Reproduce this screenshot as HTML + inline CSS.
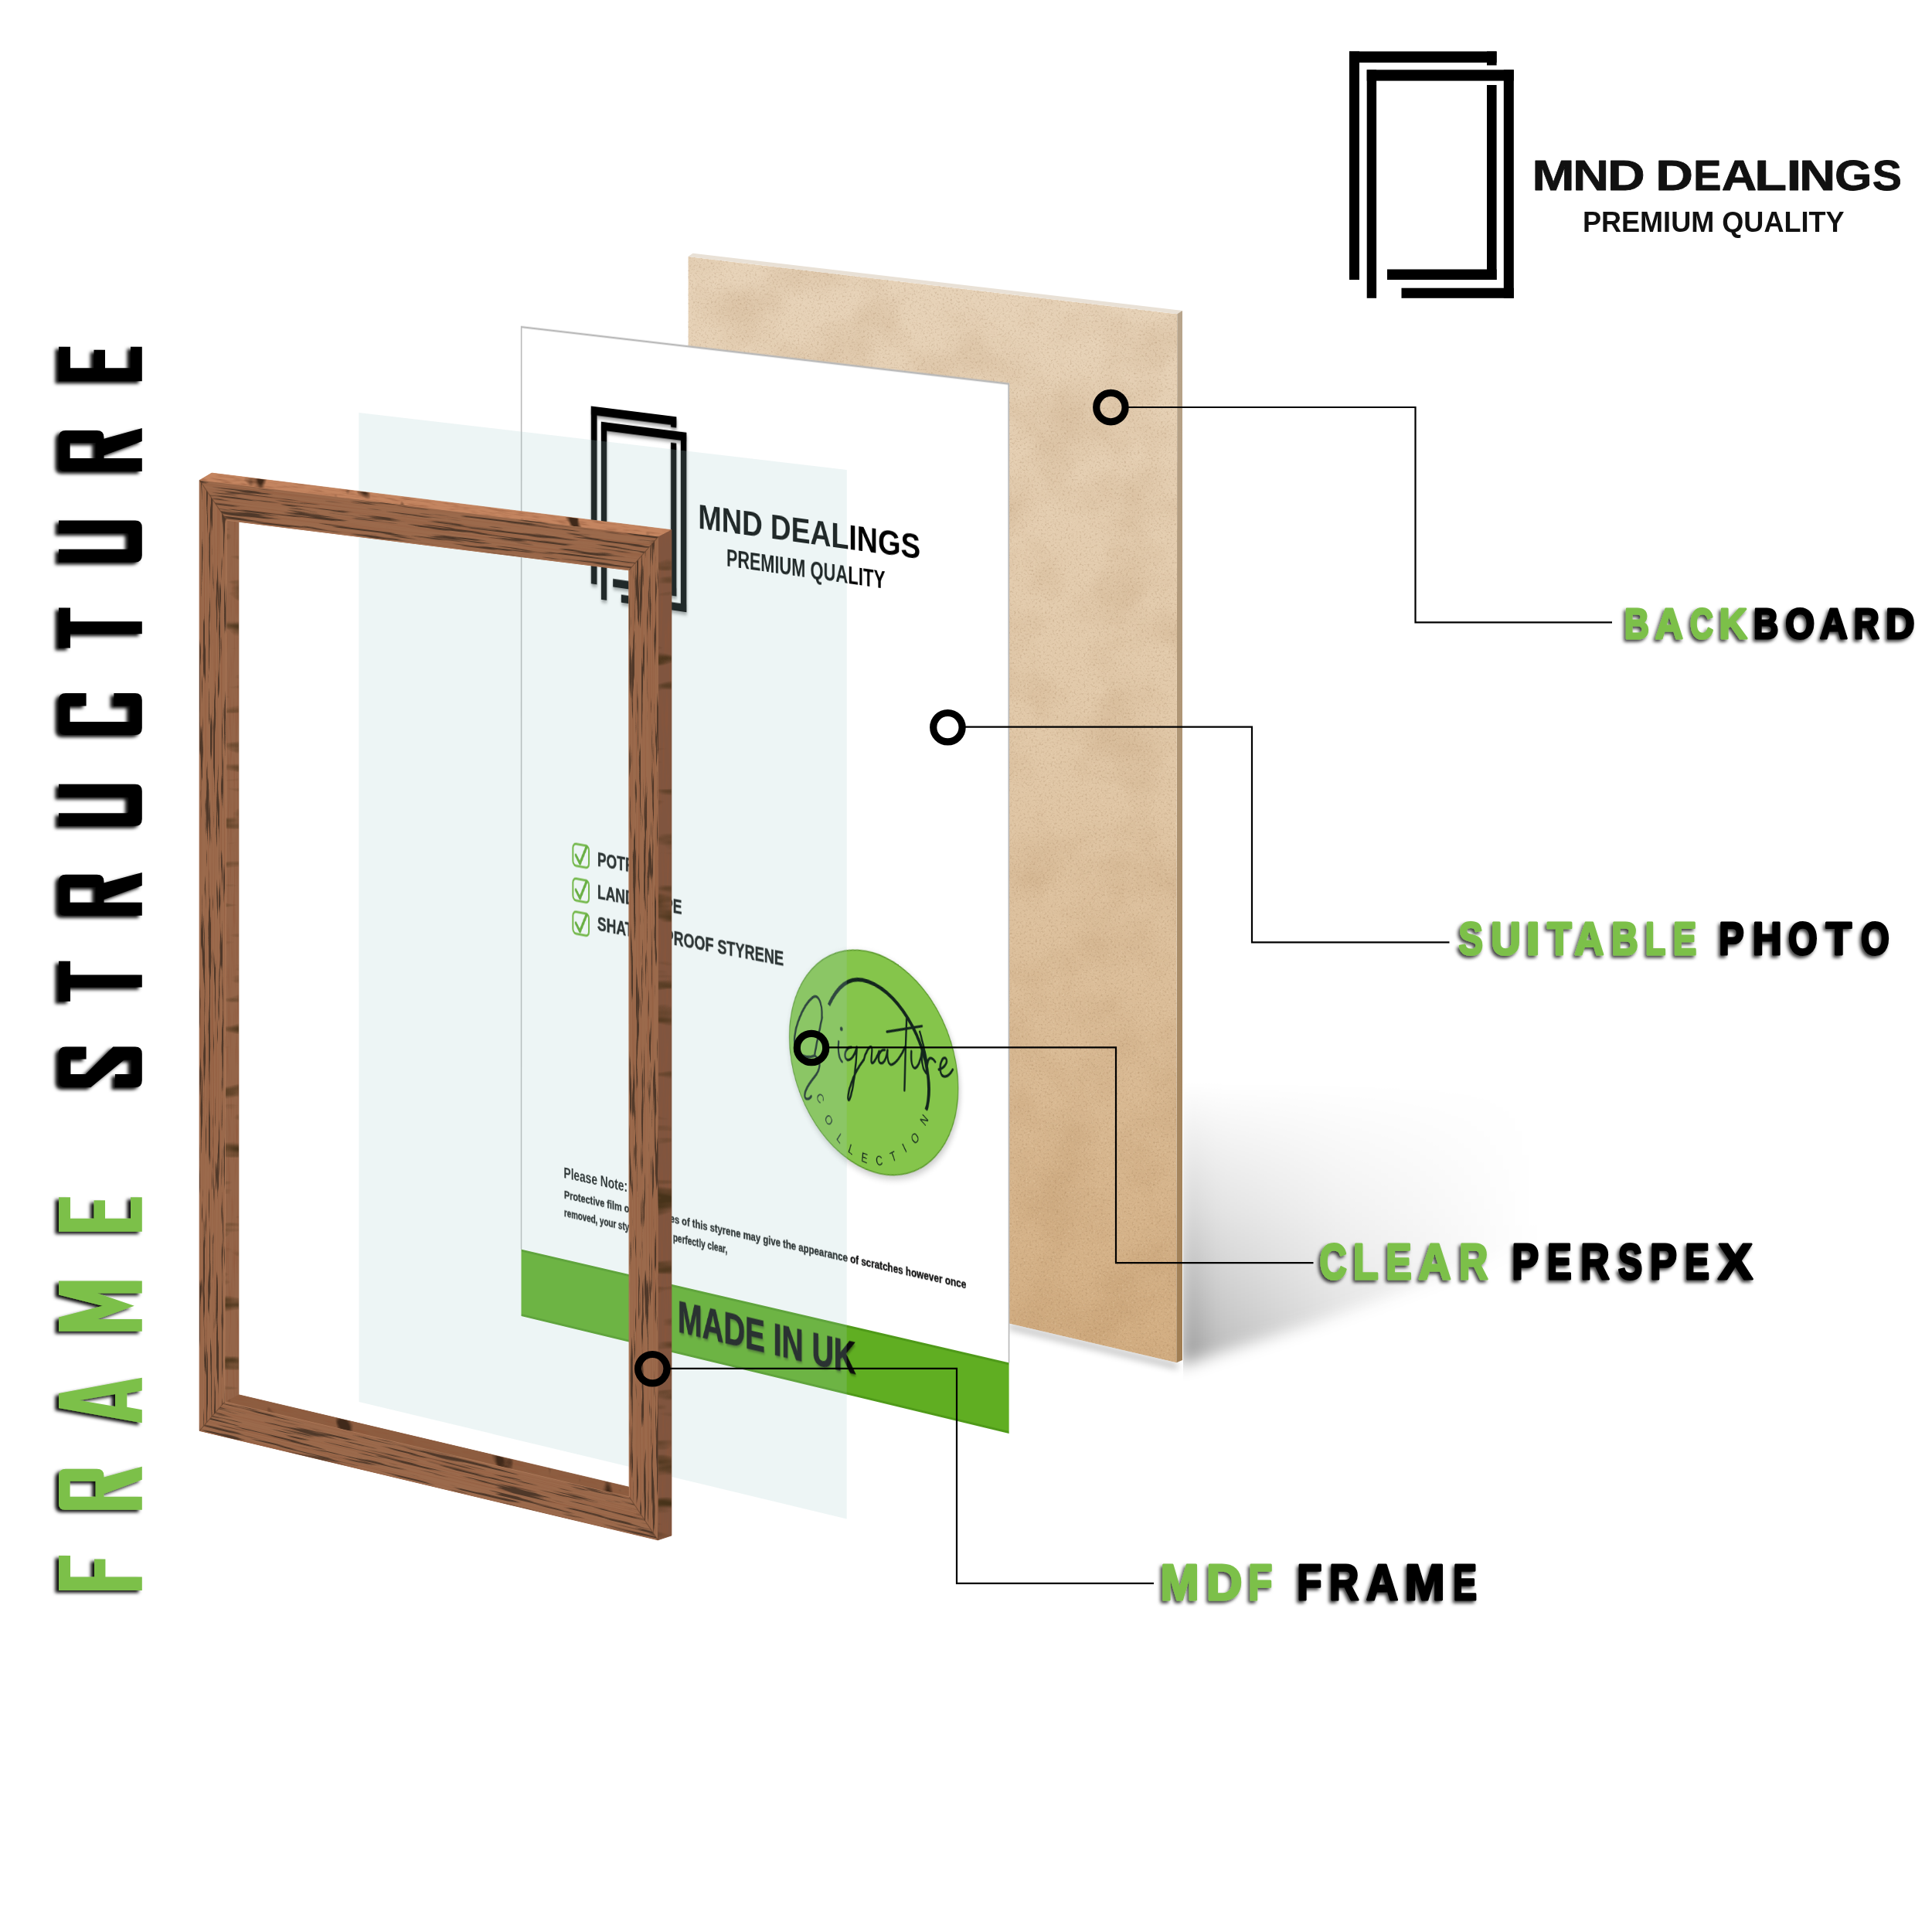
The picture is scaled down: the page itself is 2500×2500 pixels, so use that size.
<!DOCTYPE html>
<html><head><meta charset="utf-8"><title>Frame Structure</title>
<style>
html,body{margin:0;padding:0;background:#fff;}
body{width:2500px;height:2500px;position:relative;overflow:hidden;font-family:"Liberation Sans", sans-serif;}
svg{position:absolute;left:0;top:0;overflow:visible}
#paper{position:absolute;left:0;top:0;width:912px;height:1332px;transform-origin:0 0;transform:matrix3d(0.61699824,0.049979648,0,-6.4018783e-05,-0.00061865881,0.96844175,0,-6.925777e-07,0,0,1,0,674.7,423.1,0,1) translate(-6px,-6px);}
text{font-family:"Liberation Sans", sans-serif;}
</style></head><body>

<svg id="back" width="2500" height="2500" viewBox="0 0 2500 2500">
<defs>
<linearGradient id="gbb" x1="0" y1="0" x2="0" y2="1">
<stop offset="0" stop-color="#e7d3b9"/><stop offset="0.45" stop-color="#e1c8a8"/><stop offset="1" stop-color="#d2ad81"/></linearGradient>
<linearGradient id="gbr" x1="0" y1="0" x2="0" y2="1">
<stop offset="0" stop-color="#b8a58c"/><stop offset="1" stop-color="#a07d52"/></linearGradient>
<filter id="mdf" x="0" y="0" width="100%" height="100%" color-interpolation-filters="sRGB">
<feTurbulence type="fractalNoise" baseFrequency="0.012" numOctaves="3" seed="2" result="n1"/>
<feColorMatrix in="n1" type="matrix" values="0 0 0 0 0.6  0 0 0 0 0.43  0 0 0 0 0.25  0.32 0 0 0 -0.13" result="m1"/>
<feTurbulence type="fractalNoise" baseFrequency="0.4" numOctaves="2" seed="7" result="n2"/>
<feColorMatrix in="n2" type="matrix" values="0 0 0 0 0.5  0 0 0 0 0.36  0 0 0 0 0.22  0.7 0 0 0 -0.37" result="m2"/>
<feColorMatrix in="n2" type="matrix" values="0 0 0 0 1  0 0 0 0 0.95  0 0 0 0 0.85  0 -0.6 0 0 0.25" result="m3"/>
<feMerge result="m"><feMergeNode in="SourceGraphic"/><feMergeNode in="m1"/><feMergeNode in="m2"/><feMergeNode in="m3"/></feMerge>
<feComposite in="m" in2="SourceGraphic" operator="in"/></filter>
<filter id="blur30" x="-50%" y="-50%" width="200%" height="200%"><feGaussianBlur stdDeviation="10"/></filter>
<filter id="blur6" x="-50%" y="-50%" width="200%" height="200%"><feGaussianBlur stdDeviation="5"/></filter>
<linearGradient id="gsh" gradientUnits="userSpaceOnUse" x1="1530" y1="0" x2="1990" y2="0">
<stop offset="0" stop-color="#000" stop-opacity="0.38"/><stop offset="0.1" stop-color="#000" stop-opacity="0.25"/><stop offset="0.45" stop-color="#000" stop-opacity="0.12"/><stop offset="1" stop-color="#000" stop-opacity="0"/></linearGradient>
<linearGradient id="gshv" gradientUnits="userSpaceOnUse" x1="0" y1="1400" x2="0" y2="1740">
<stop offset="0" stop-color="#fff" stop-opacity="0"/><stop offset="0.5" stop-color="#fff" stop-opacity="0.45"/><stop offset="1" stop-color="#fff" stop-opacity="1"/></linearGradient>
<mask id="mshv" maskUnits="userSpaceOnUse" x="1400" y="1200" width="900" height="800"><rect x="1531" y="1200" width="800" height="800" fill="url(#gshv)"/></mask>
</defs>
<g mask="url(#mshv)"><polygon points="1526,1380 1526,1768 1700,1712 2010,1600 2010,1380" fill="url(#gsh)" filter="url(#blur30)"/></g>
<polygon points="1305,1712 1524,1764 1524,1772 1305,1720" fill="#000" opacity="0.25" filter="url(#blur6)"/>
<polygon points="890.4,332.0 896.6,327.8 1530.0,402.0 1523.3,406.2" fill="#e9e1d6"/>
<polygon points="1523.3,406.2 1530.0,402.0 1530.0,1760.0 1522.3,1763.3" fill="url(#gbr)"/>
<polygon points="890.4,332.0 1523.3,406.2 1522.3,1763.3 890.4,1615.4" fill="url(#gbb)" filter="url(#mdf)"/>
</svg>
<div id="paper"><svg width="912" height="1332" viewBox="-6 -6 912 1332">
<defs><filter id="psh" x="-10%%" y="-10%%" width="120%%" height="120%%"><feDropShadow dx="0.5" dy="3.5" stdDeviation="2.2" flood-color="#000" flood-opacity="0.38"/></filter></defs>
<rect x="0" y="0" width="900" height="1320" fill="#fff"/>
<path d="M0,1231 V0 H900 V1231" fill="none" stroke="#b9b9b9" stroke-width="2.4"/>
<rect x="0" y="1231" width="900" height="89" fill="#60ae22"/>
<rect x="0" y="1231" width="900" height="3" fill="#4f9a19"/>
<rect x="0" y="1317" width="900" height="3" fill="#4f9a19"/>
<g filter="url(#psh)"><g fill="#000"><rect x="135.50" y="94.00" width="162.65" height="11.53"/><rect x="135.50" y="94.00" width="11.09" height="235.07"/><rect x="287.40" y="94.00" width="10.75" height="14.32"/><rect x="287.40" y="128.60" width="10.75" height="200.46"/><rect x="177.32" y="318.33" width="120.84" height="10.74"/><rect x="154.87" y="112.93" width="162.23" height="11.38"/><rect x="154.87" y="112.93" width="10.58" height="235.07"/><rect x="306.01" y="112.93" width="11.09" height="235.07"/><rect x="193.10" y="337.58" width="124.00" height="10.42"/></g></g>
<text x="339" y="236.5" font-size="44.3" font-weight="700" textLength="405.7" lengthAdjust="spacingAndGlyphs" fill="#000">MND DEALINGS</text>
<text x="391.8" y="280" font-size="32" font-weight="700" textLength="290" lengthAdjust="spacingAndGlyphs" fill="#000">PREMIUM QUALITY</text>
<rect x="100.5" y="677.0" width="31" height="29" rx="6" ry="6" fill="#fff" stroke="#6ab42d" stroke-width="3"/><path d="M106,692.0 l8,10 l13,-24" fill="none" stroke="#5aa822" stroke-width="4.2" stroke-linecap="round" stroke-linejoin="round"/>
<text x="147.6" y="701.0" font-size="25.8" font-weight="700" textLength="113.5" lengthAdjust="spacingAndGlyphs" fill="#111" stroke="#111" stroke-width="0.5">POTRAIT</text>
<rect x="100.5" y="723.0" width="31" height="29" rx="6" ry="6" fill="#fff" stroke="#6ab42d" stroke-width="3"/><path d="M106,738.0 l8,10 l13,-24" fill="none" stroke="#5aa822" stroke-width="4.2" stroke-linecap="round" stroke-linejoin="round"/>
<text x="147.6" y="744.2" font-size="25.8" font-weight="700" textLength="161.0" lengthAdjust="spacingAndGlyphs" fill="#111" stroke="#111" stroke-width="0.5">LANDSCAPE</text>
<rect x="100.5" y="767.0" width="31" height="29" rx="6" ry="6" fill="#fff" stroke="#6ab42d" stroke-width="3"/><path d="M106,782.0 l8,10 l13,-24" fill="none" stroke="#5aa822" stroke-width="4.2" stroke-linecap="round" stroke-linejoin="round"/>
<text x="147.6" y="786.5" font-size="25.8" font-weight="700" textLength="350.0" lengthAdjust="spacingAndGlyphs" fill="#111" stroke="#111" stroke-width="0.5">SHATTER PROOF STYRENE</text>
<g transform="translate(661.5,891.5) rotate(23.5)"><ellipse cx="0" cy="0" rx="155" ry="138.5" fill="#000" opacity="0.22" filter="url(#blur6)"/></g>
<g transform="translate(659.6,887.6) rotate(23.5)"><ellipse cx="0" cy="0" rx="154" ry="137.6" fill="#85c54b" stroke="#5c9a2c" stroke-width="1.6"/></g>
<path d="M580,825.5 C 595,800 615,785 640.8,784.9 C 700,785 759,845 759.6,907.5 C 759.6,917 758,927 754.6,934.8" fill="none" stroke="#13261d" stroke-width="5" stroke-linecap="butt"/>
<text transform="translate(564.7,947.3) rotate(59.2)" x="0" y="6" text-anchor="middle" font-size="17" fill="#13261d">C</text>
<text transform="translate(580.0,973.0) rotate(52.3)" x="0" y="6" text-anchor="middle" font-size="17" fill="#13261d">O</text>
<text transform="translate(600.3,993.4) rotate(38.1)" x="0" y="6" text-anchor="middle" font-size="17" fill="#13261d">L</text>
<text transform="translate(620.5,1004.7) rotate(22.6)" x="0" y="6" text-anchor="middle" font-size="17" fill="#13261d">L</text>
<text transform="translate(644.5,1011.8) rotate(7.6)" x="0" y="6" text-anchor="middle" font-size="17" fill="#13261d">E</text>
<text transform="translate(670.9,1011.4) rotate(-10.5)" x="0" y="6" text-anchor="middle" font-size="17" fill="#13261d">C</text>
<text transform="translate(696.0,1002.3) rotate(-26.8)" x="0" y="6" text-anchor="middle" font-size="17" fill="#13261d">T</text>
<text transform="translate(716.0,988.6) rotate(-36.8)" x="0" y="6" text-anchor="middle" font-size="17" fill="#13261d">I</text>
<text transform="translate(734.7,973.4) rotate(-49.5)" x="0" y="6" text-anchor="middle" font-size="17" fill="#13261d">O</text>
<text transform="translate(750.9,947.8) rotate(-57.7)" x="0" y="6" text-anchor="middle" font-size="17" fill="#13261d">N</text>
<g fill="none" stroke="#13261d" stroke-width="3.2" stroke-linecap="round" stroke-linejoin="round">
<path d="M 567.3,843.5 C 568.5,821.7 559.6,813.9 550.7,819.6 C 532.8,832.0 513.6,867.2 518.2,886.4 C 521.3,896.8 539.2,901.5 554.5,893.9"/>
<path d="M 567.8,842.5 C 563.4,860.2 557.1,879.1 554.5,892.1"/>
<path d="M 554.5,893.9 C 567.2,899.3 564.7,910.4 554.5,920.9 C 544.3,931.4 535.3,941.7 536.1,948.8 C 537.1,954.1 544.8,952.0 548.1,947.1"/>
<path d="M 597.8,869.8 C 596.5,880.7 597.8,891.3 604.1,894.9"/>
<path d="M 620.6,873.8 C 610.4,875.2 605.4,888.5 613.0,891.0 C 620.5,891.7 628.1,881.7 630.7,872.3 C 629.4,899.4 624.3,927.0 618.0,940.5 C 614.2,946.4 612.4,937.7 620.5,920.4 C 625.6,908.9 635.7,894.9 643.3,886.7"/>
<path d="M 643.3,886.7 C 645.8,877.4 653.4,867.3 657.1,868.6 C 659.7,870.0 655.9,883.1 657.1,888.3 C 659.6,891.5 665.9,881.7 671.0,872.0"/>
<path d="M 681.0,868.8 C 671.0,868.4 665.9,885.2 673.5,886.8 C 681.0,886.7 684.8,875.4 686.0,868.1 C 684.8,879.0 687.3,887.6 693.5,885.8 C 701.0,882.9 711.0,871.7 717.3,860.1"/>
<path d="M 719.8,824.1 C 718.5,856.4 717.3,886.8 716.0,915.5"/>
<path d="M 684.8,845.1 L 747.2,829.2"/>
<path d="M 728.5,863.9 C 727.3,876.5 729.8,885.1 734.7,884.4 C 741.0,882.6 745.9,870.3 747.2,861.2 C 746.4,873.8 748.4,884.2 754.6,887.7"/>
<path d="M 754.6,887.7 C 755.9,877.8 757.1,870.5 760.9,868.2 C 764.6,866.8 768.3,868.9 770.8,871.2"/>
<path d="M 777.0,880.1 C 788.1,876.7 794.3,867.0 789.3,864.1 C 783.2,862.4 777.0,874.8 780.7,884.0 C 784.4,891.5 795.5,886.3 801.7,876.6"/>
<path d="M 743.5,836.9 C 749.7,852.0 753.4,863.9 755.9,872.4"/>
</g>
<circle cx="602.8" cy="852.9" r="2.6" fill="#13261d"/>
<text x="82.8" y="1123.5" font-size="20.5" font-weight="700" textLength="122.7" lengthAdjust="spacingAndGlyphs" fill="#111">Please Note:</text>
<text x="83.5" y="1150.5" font-size="15" font-weight="700" textLength="742" lengthAdjust="spacingAndGlyphs" fill="#111" stroke="#111" stroke-width="0.35">Protective film on both sides of this styrene may give the appearance of scratches however once</text>
<text x="83.5" y="1174.5" font-size="15" font-weight="700" textLength="310" lengthAdjust="spacingAndGlyphs" fill="#111" stroke="#111" stroke-width="0.35">removed, your styrene will be perfectly clear,</text>
<text x="302" y="1294" font-size="56.5" font-weight="700" textLength="328" lengthAdjust="spacingAndGlyphs" fill="#000" opacity="0.35" filter="url(#blur2)">MADE IN UK</text>
<text x="300.6" y="1291" font-size="56.5" font-weight="700" textLength="328" lengthAdjust="spacingAndGlyphs" fill="#0c0c0c" stroke="#0c0c0c" stroke-width="1">MADE IN UK</text>
</svg></div>
<svg id="front" width="2500" height="2500" viewBox="0 0 2500 2500">
<defs>
<filter id="blur2" x="-20%" y="-20%" width="140%" height="140%"><feGaussianBlur stdDeviation="1.5"/></filter>
<filter id="vsh" x="-20%" y="-5%" width="140%" height="110%"><feDropShadow dx="-4.5" dy="3" stdDeviation="2.2" flood-color="#000" flood-opacity="0.95"/></filter>
<filter id="lsh" x="-5%" y="-30%" width="110%" height="170%"><feDropShadow dx="-2.5" dy="3" stdDeviation="2.2" flood-color="#000" flood-opacity="0.75"/></filter>
<linearGradient id="gwf" x1="0" y1="0" x2="1" y2="0"><stop offset="0" stop-color="#a36a4a"/><stop offset="1" stop-color="#a97050"/></linearGradient>
</defs>
<polygon points="464.3,533.9 1095.8,607.9 1095.7,1965.4 464.5,1814.0" fill="rgb(165,205,205)" fill-opacity="0.2"/>
<defs><filter id="wh" x="0" y="0" width="100%" height="100%" color-interpolation-filters="sRGB"><feTurbulence type="fractalNoise" baseFrequency="0.011 0.3" numOctaves="3" seed="5" result="n"/><feColorMatrix in="n" type="matrix" values="0 0 0 0 0.31  0 0 0 0 0.22  0 0 0 0 0.16  10.00 0 0 0 -5.60" result="d"/><feTurbulence type="fractalNoise" baseFrequency="0.004 0.9" numOctaves="2" seed="12" result="n2"/><feColorMatrix in="n2" type="matrix" values="0 0 0 0 0.55 0 0 0 0 0.33 0 0 0 0 0.22  0 1.80 0 0 -0.85" result="l"/><feMerge result="m"><feMergeNode in="SourceGraphic"/><feMergeNode in="l"/><feMergeNode in="d"/></feMerge><feComposite in="m" in2="SourceGraphic" operator="in"/></filter><filter id="wh2" x="0" y="0" width="100%" height="100%" color-interpolation-filters="sRGB"><feTurbulence type="fractalNoise" baseFrequency="0.011 0.3" numOctaves="3" seed="23" result="n"/><feColorMatrix in="n" type="matrix" values="0 0 0 0 0.31  0 0 0 0 0.22  0 0 0 0 0.16  10.00 0 0 0 -5.60" result="d"/><feTurbulence type="fractalNoise" baseFrequency="0.004 0.9" numOctaves="2" seed="30" result="n2"/><feColorMatrix in="n2" type="matrix" values="0 0 0 0 0.55 0 0 0 0 0.33 0 0 0 0 0.22  0 1.80 0 0 -0.85" result="l"/><feMerge result="m"><feMergeNode in="SourceGraphic"/><feMergeNode in="l"/><feMergeNode in="d"/></feMerge><feComposite in="m" in2="SourceGraphic" operator="in"/></filter><filter id="wv" x="0" y="0" width="100%" height="100%" color-interpolation-filters="sRGB"><feTurbulence type="fractalNoise" baseFrequency="0.3 0.011" numOctaves="3" seed="9" result="n"/><feColorMatrix in="n" type="matrix" values="0 0 0 0 0.31  0 0 0 0 0.22  0 0 0 0 0.16  10.00 0 0 0 -5.65" result="d"/><feTurbulence type="fractalNoise" baseFrequency="0.9 0.004" numOctaves="2" seed="16" result="n2"/><feColorMatrix in="n2" type="matrix" values="0 0 0 0 0.55 0 0 0 0 0.33 0 0 0 0 0.22  0 1.80 0 0 -0.85" result="l"/><feMerge result="m"><feMergeNode in="SourceGraphic"/><feMergeNode in="l"/><feMergeNode in="d"/></feMerge><feComposite in="m" in2="SourceGraphic" operator="in"/></filter><filter id="wv2" x="0" y="0" width="100%" height="100%" color-interpolation-filters="sRGB"><feTurbulence type="fractalNoise" baseFrequency="0.3 0.011" numOctaves="3" seed="31" result="n"/><feColorMatrix in="n" type="matrix" values="0 0 0 0 0.31  0 0 0 0 0.22  0 0 0 0 0.16  10.00 0 0 0 -5.65" result="d"/><feTurbulence type="fractalNoise" baseFrequency="0.9 0.004" numOctaves="2" seed="38" result="n2"/><feColorMatrix in="n2" type="matrix" values="0 0 0 0 0.55 0 0 0 0 0.33 0 0 0 0 0.22  0 1.80 0 0 -0.85" result="l"/><feMerge result="m"><feMergeNode in="SourceGraphic"/><feMergeNode in="l"/><feMergeNode in="d"/></feMerge><feComposite in="m" in2="SourceGraphic" operator="in"/></filter><filter id="wtop" x="0" y="0" width="100%" height="100%" color-interpolation-filters="sRGB"><feTurbulence type="fractalNoise" baseFrequency="0.03 0.02" numOctaves="3" seed="3" result="n"/><feColorMatrix in="n" type="matrix" values="0 0 0 0 0.25  0 0 0 0 0.16  0 0 0 0 0.10  7.00 0 0 0 -4.30" result="d"/><feTurbulence type="fractalNoise" baseFrequency="0.05 0.4" numOctaves="2" seed="10" result="n2"/><feColorMatrix in="n2" type="matrix" values="0 0 0 0 0.55 0 0 0 0 0.33 0 0 0 0 0.22  0 1.50 0 0 -0.70" result="l"/><feMerge result="m"><feMergeNode in="SourceGraphic"/><feMergeNode in="l"/><feMergeNode in="d"/></feMerge><feComposite in="m" in2="SourceGraphic" operator="in"/></filter><filter id="wside" x="0" y="0" width="100%" height="100%" color-interpolation-filters="sRGB"><feTurbulence type="fractalNoise" baseFrequency="0.01 0.04" numOctaves="3" seed="4" result="n"/><feColorMatrix in="n" type="matrix" values="0 0 0 0 0.28  0 0 0 0 0.20  0 0 0 0 0.10  4.00 0 0 0 -2.20" result="d"/><feTurbulence type="fractalNoise" baseFrequency="0.4 0.02" numOctaves="2" seed="11" result="n2"/><feColorMatrix in="n2" type="matrix" values="0 0 0 0 0.55 0 0 0 0 0.33 0 0 0 0 0.22  0 1.50 0 0 -0.70" result="l"/><feMerge result="m"><feMergeNode in="SourceGraphic"/><feMergeNode in="l"/><feMergeNode in="d"/></feMerge><feComposite in="m" in2="SourceGraphic" operator="in"/></filter></defs>
<path d="M258.2,621.4 L852.0,694.4 L851.4,1992.8 L258.2,1851.4 Z M293.2,673.2 L813.9,737.8 L814.3,1937.0 L290.8,1813.9 Z" fill="#9a6548" fill-rule="evenodd" stroke="#9a6548" stroke-width="1"/>
<polygon points="258.2,621.4 274.0,612.1 868.9,685.7 852.0,694.4" fill="#c48560" stroke="#c48560" stroke-width="0.8"/>
<polygon points="852.0,694.4 868.9,685.7 868.9,1987.0 851.4,1992.8" fill="#85573f" stroke="#85573f" stroke-width="0.8"/>
<polygon points="293.2,673.2 308.9,675.6 308.9,1804.8 290.8,1813.9" fill="#946549" stroke="#946549" stroke-width="0.8"/>
<polygon points="290.8,1813.9 308.9,1804.8 813.9,1924.2 814.3,1937.0" fill="#8d5d40" stroke="#8d5d40" stroke-width="0.8"/>
<clipPath id="cp1"><polygon points="258.2,621.4 274.0,612.1 868.9,685.7 852.0,694.4"/></clipPath><g clip-path="url(#cp1)"><g transform="matrix(1,0.12294,0,1,0,0)"><rect x="252.2" y="572.4" width="622.7" height="23.2" fill="#c48560" filter="url(#wtop)"/></g></g>
<clipPath id="cp2"><polygon points="852.0,694.4 868.9,685.7 868.9,1987.0 851.4,1992.8"/></clipPath><g clip-path="url(#cp2)"><rect x="845.4" y="679.7" width="29.5" height="1319.1" fill="#80553f" filter="url(#wside)"/></g>
<clipPath id="cp3"><polygon points="293.2,673.2 308.9,675.6 308.9,1804.8 290.8,1813.9"/></clipPath><g clip-path="url(#cp3)"><rect x="284.8" y="667.2" width="30.1" height="1152.7" fill="#946549" filter="url(#wside)"/></g>
<clipPath id="cp4"><polygon points="290.8,1813.9 308.9,1804.8 813.9,1924.2 814.3,1937.0"/></clipPath><g clip-path="url(#cp4)"><g transform="matrix(1,0.23837,0,1,0,0)"><rect x="284.8" y="1724.2" width="535.5" height="26.4" fill="#8d5d40" filter="url(#wtop)"/></g></g>
<clipPath id="cp5"><polygon points="258.2,621.4 852.0,694.4 813.9,737.8 293.2,673.2"/></clipPath><g clip-path="url(#cp5)"><g transform="matrix(1,0.12294,0,1,0,0)"><rect x="252.2" y="583.7" width="605.8" height="60.1" fill="#9b6a4c" filter="url(#wh)"/></g></g>
<clipPath id="cp6"><polygon points="258.2,1851.4 290.8,1813.9 814.3,1937.0 851.4,1992.8"/></clipPath><g clip-path="url(#cp6)"><g transform="matrix(1,0.23837,0,1,0,0)"><rect x="252.2" y="1736.9" width="605.2" height="59.0" fill="#9b6a4c" filter="url(#wh2)"/></g></g>
<clipPath id="cp7"><polygon points="258.2,621.4 293.2,673.2 290.8,1813.9 258.2,1851.4"/></clipPath><g clip-path="url(#cp7)"><rect x="252.2" y="615.4" width="47.0" height="1242.0" fill="#9b6a4c" filter="url(#wv)"/></g>
<clipPath id="cp8"><polygon points="852.0,694.4 851.4,1992.8 814.3,1937.0 813.9,737.8"/></clipPath><g clip-path="url(#cp8)"><rect x="807.9" y="688.4" width="50.1" height="1310.4" fill="#9b6a4c" filter="url(#wv2)"/></g>
<line x1="258.2" y1="621.4" x2="293.2" y2="673.2" stroke="#5e3f2b" stroke-width="1.2" opacity="0.55"/>
<line x1="852.0" y1="694.4" x2="813.9" y2="737.8" stroke="#5e3f2b" stroke-width="1.2" opacity="0.55"/>
<line x1="851.4" y1="1992.8" x2="814.3" y2="1937.0" stroke="#5e3f2b" stroke-width="1.2" opacity="0.55"/>
<line x1="258.2" y1="1851.4" x2="290.8" y2="1813.9" stroke="#5e3f2b" stroke-width="1.2" opacity="0.55"/>
<polygon points="293.2,673.2 813.9,737.8 814.3,1937.0 290.8,1813.9" fill="none" stroke="#b98362" stroke-width="1" opacity="0.6"/>
<polyline points="1460.0,527.0 1831.5,527.0 1831.5,805.4 2086.0,805.4" fill="none" stroke="#000" stroke-width="2.2"/><circle cx="1437.4" cy="527.1" r="18.7" fill="none" stroke="#000" stroke-width="9.2"/>
<polyline points="1249.0,940.6 1620.0,940.6 1620.0,1219.4 1875.5,1219.4" fill="none" stroke="#000" stroke-width="2.2"/><circle cx="1226.4" cy="941.2" r="18.7" fill="none" stroke="#000" stroke-width="9.2"/>
<polyline points="1072.0,1355.4 1444.0,1355.4 1444.0,1634.2 1699.5,1634.2" fill="none" stroke="#000" stroke-width="2.2"/><circle cx="1050.0" cy="1356.0" r="18.7" fill="none" stroke="#000" stroke-width="9.2"/>
<polyline points="867.0,1770.8 1238.0,1770.8 1238.0,2048.8 1493.0,2048.8" fill="none" stroke="#000" stroke-width="2.2"/><circle cx="844.3" cy="1771.2" r="18.7" fill="none" stroke="#000" stroke-width="9.2"/>
<g fill="#000"><rect x="1746.00" y="66.50" width="190.60" height="14.50"/><rect x="1746.00" y="66.50" width="13.00" height="295.50"/><rect x="1924.00" y="66.50" width="12.60" height="18.00"/><rect x="1924.00" y="110.00" width="12.60" height="252.00"/><rect x="1795.00" y="348.50" width="141.60" height="13.50"/><rect x="1768.70" y="90.30" width="190.10" height="14.30"/><rect x="1768.70" y="90.30" width="12.40" height="295.50"/><rect x="1945.80" y="90.30" width="13.00" height="295.50"/><rect x="1813.50" y="372.70" width="145.30" height="13.10"/></g>
<text transform="matrix(1.1710,0,0,1,1982.41,246.10)" font-size="56.40" font-weight="700" fill="#111" stroke="#111" stroke-width="0.80" stroke-linejoin="round">M</text><text transform="matrix(1.1493,0,0,1,2035.28,246.10)" font-size="56.40" font-weight="700" fill="#111" stroke="#111" stroke-width="0.80" stroke-linejoin="round">N</text><text transform="matrix(1.1969,0,0,1,2079.92,246.10)" font-size="56.40" font-weight="700" fill="#111" stroke="#111" stroke-width="0.80" stroke-linejoin="round">D</text><text transform="matrix(1.1969,0,0,1,2142.22,246.10)" font-size="56.40" font-weight="700" fill="#111" stroke="#111" stroke-width="0.80" stroke-linejoin="round">D</text><text transform="matrix(0.9604,0,0,1,2191.13,246.10)" font-size="56.40" font-weight="700" fill="#111" stroke="#111" stroke-width="0.80" stroke-linejoin="round">E</text><text transform="matrix(1.1144,0,0,1,2227.87,246.10)" font-size="56.40" font-weight="700" fill="#111" stroke="#111" stroke-width="0.80" stroke-linejoin="round">A</text><text transform="matrix(1.2154,0,0,1,2270.36,246.10)" font-size="56.40" font-weight="700" fill="#111" stroke="#111" stroke-width="0.80" stroke-linejoin="round">L</text><text transform="matrix(1.2675,0,0,1,2311.48,246.10)" font-size="56.40" font-weight="700" fill="#111" stroke="#111" stroke-width="0.80" stroke-linejoin="round">I</text><text transform="matrix(1.1523,0,0,1,2328.27,246.10)" font-size="56.40" font-weight="700" fill="#111" stroke="#111" stroke-width="0.80" stroke-linejoin="round">N</text><text transform="matrix(1.1012,0,0,1,2373.96,246.10)" font-size="56.40" font-weight="700" fill="#111" stroke="#111" stroke-width="0.80" stroke-linejoin="round">G</text><text transform="matrix(1.0146,0,0,1,2422.69,246.10)" font-size="56.40" font-weight="700" fill="#111" stroke="#111" stroke-width="0.80" stroke-linejoin="round">S</text>
<text x="2047.9" y="299.8" font-size="37.3" font-weight="700" textLength="338.7" lengthAdjust="spacingAndGlyphs" fill="#111">PREMIUM QUALITY</text>
<g filter="url(#lsh)"><text transform="matrix(0.7955,0,0,1,2102.10,826.30)" font-size="55.67" font-weight="700" fill="#7cc04a" stroke="#7cc04a" stroke-width="3.00" stroke-linejoin="round">B</text><text transform="matrix(0.8884,0,0,1,2142.10,826.30)" font-size="55.67" font-weight="700" fill="#7cc04a" stroke="#7cc04a" stroke-width="3.00" stroke-linejoin="round">A</text><text transform="matrix(0.7450,0,0,1,2187.06,826.30)" font-size="55.67" font-weight="700" fill="#7cc04a" stroke="#7cc04a" stroke-width="3.00" stroke-linejoin="round">C</text><text transform="matrix(0.8945,0,0,1,2224.68,826.30)" font-size="55.67" font-weight="700" fill="#7cc04a" stroke="#7cc04a" stroke-width="3.00" stroke-linejoin="round">K</text><text transform="matrix(0.8063,0,0,1,2269.08,826.30)" font-size="55.67" font-weight="700" fill="#000" stroke="#000" stroke-width="3.00" stroke-linejoin="round">B</text><text transform="matrix(0.8755,0,0,1,2310.26,826.30)" font-size="55.67" font-weight="700" fill="#000" stroke="#000" stroke-width="3.00" stroke-linejoin="round">O</text><text transform="matrix(0.8909,0,0,1,2355.10,826.30)" font-size="55.67" font-weight="700" fill="#000" stroke="#000" stroke-width="3.00" stroke-linejoin="round">A</text><text transform="matrix(0.8244,0,0,1,2398.84,826.30)" font-size="55.67" font-weight="700" fill="#000" stroke="#000" stroke-width="3.00" stroke-linejoin="round">R</text><text transform="matrix(0.9354,0,0,1,2439.89,826.30)" font-size="55.67" font-weight="700" fill="#000" stroke="#000" stroke-width="3.00" stroke-linejoin="round">D</text></g>
<g filter="url(#lsh)"><text transform="matrix(0.8071,0,0,1,1887.60,1234.50)" font-size="58.43" font-weight="700" fill="#7cc04a" stroke="#7cc04a" stroke-width="3.00" stroke-linejoin="round">S</text><text transform="matrix(0.9144,0,0,1,1929.17,1234.50)" font-size="58.43" font-weight="700" fill="#7cc04a" stroke="#7cc04a" stroke-width="3.00" stroke-linejoin="round">U</text><text transform="matrix(1.1036,0,0,1,1974.80,1234.50)" font-size="58.43" font-weight="700" fill="#7cc04a" stroke="#7cc04a" stroke-width="3.00" stroke-linejoin="round">I</text><text transform="matrix(0.8787,0,0,1,2002.18,1234.50)" font-size="58.43" font-weight="700" fill="#7cc04a" stroke="#7cc04a" stroke-width="3.00" stroke-linejoin="round">T</text><text transform="matrix(0.8968,0,0,1,2037.54,1234.50)" font-size="58.43" font-weight="700" fill="#7cc04a" stroke="#7cc04a" stroke-width="3.00" stroke-linejoin="round">A</text><text transform="matrix(0.8178,0,0,1,2085.30,1234.50)" font-size="58.43" font-weight="700" fill="#7cc04a" stroke="#7cc04a" stroke-width="3.00" stroke-linejoin="round">B</text><text transform="matrix(0.7376,0,0,1,2129.10,1234.50)" font-size="58.43" font-weight="700" fill="#7cc04a" stroke="#7cc04a" stroke-width="3.00" stroke-linejoin="round">L</text><text transform="matrix(0.7783,0,0,1,2165.00,1234.50)" font-size="58.43" font-weight="700" fill="#7cc04a" stroke="#7cc04a" stroke-width="3.00" stroke-linejoin="round">E</text><text transform="matrix(0.8330,0,0,1,2224.26,1234.50)" font-size="58.43" font-weight="700" fill="#000" stroke="#000" stroke-width="3.00" stroke-linejoin="round">P</text><text transform="matrix(0.9028,0,0,1,2267.69,1234.50)" font-size="58.43" font-weight="700" fill="#000" stroke="#000" stroke-width="3.00" stroke-linejoin="round">H</text><text transform="matrix(0.8324,0,0,1,2314.00,1234.50)" font-size="58.43" font-weight="700" fill="#000" stroke="#000" stroke-width="3.00" stroke-linejoin="round">O</text><text transform="matrix(0.9323,0,0,1,2362.72,1234.50)" font-size="58.43" font-weight="700" fill="#000" stroke="#000" stroke-width="3.00" stroke-linejoin="round">T</text><text transform="matrix(0.8118,0,0,1,2408.12,1234.50)" font-size="58.43" font-weight="700" fill="#000" stroke="#000" stroke-width="3.00" stroke-linejoin="round">O</text></g>
<g filter="url(#lsh)"><text transform="matrix(0.7569,0,0,1,1707.42,1654.90)" font-size="64.68" font-weight="700" fill="#7cc04a" stroke="#7cc04a" stroke-width="3.00" stroke-linejoin="round">C</text><text transform="matrix(0.8345,0,0,1,1750.78,1654.90)" font-size="64.68" font-weight="700" fill="#7cc04a" stroke="#7cc04a" stroke-width="3.00" stroke-linejoin="round">L</text><text transform="matrix(0.7773,0,0,1,1793.30,1654.90)" font-size="64.68" font-weight="700" fill="#7cc04a" stroke="#7cc04a" stroke-width="3.00" stroke-linejoin="round">E</text><text transform="matrix(0.9004,0,0,1,1835.54,1654.90)" font-size="64.68" font-weight="700" fill="#7cc04a" stroke="#7cc04a" stroke-width="3.00" stroke-linejoin="round">A</text><text transform="matrix(0.8040,0,0,1,1887.90,1654.90)" font-size="64.68" font-weight="700" fill="#7cc04a" stroke="#7cc04a" stroke-width="3.00" stroke-linejoin="round">R</text><text transform="matrix(0.8116,0,0,1,1956.24,1654.90)" font-size="64.68" font-weight="700" fill="#000" stroke="#000" stroke-width="3.00" stroke-linejoin="round">P</text><text transform="matrix(0.7364,0,0,1,2002.02,1654.90)" font-size="64.68" font-weight="700" fill="#000" stroke="#000" stroke-width="3.00" stroke-linejoin="round">E</text><text transform="matrix(0.8040,0,0,1,2045.15,1654.90)" font-size="64.68" font-weight="700" fill="#000" stroke="#000" stroke-width="3.00" stroke-linejoin="round">R</text><text transform="matrix(0.7321,0,0,1,2093.67,1654.90)" font-size="64.68" font-weight="700" fill="#000" stroke="#000" stroke-width="3.00" stroke-linejoin="round">S</text><text transform="matrix(0.8116,0,0,1,2134.99,1654.90)" font-size="64.68" font-weight="700" fill="#000" stroke="#000" stroke-width="3.00" stroke-linejoin="round">P</text><text transform="matrix(0.7364,0,0,1,2180.14,1654.90)" font-size="64.68" font-weight="700" fill="#000" stroke="#000" stroke-width="3.00" stroke-linejoin="round">E</text><text transform="matrix(1.0368,0,0,1,2223.25,1654.90)" font-size="64.68" font-weight="700" fill="#000" stroke="#000" stroke-width="3.00" stroke-linejoin="round">X</text></g>
<g filter="url(#lsh)"><text transform="matrix(0.9323,0,0,1,1501.62,2069.90)" font-size="64.53" font-weight="700" fill="#7cc04a" stroke="#7cc04a" stroke-width="3.00" stroke-linejoin="round">M</text><text transform="matrix(0.9966,0,0,1,1560.96,2069.90)" font-size="64.53" font-weight="700" fill="#7cc04a" stroke="#7cc04a" stroke-width="3.00" stroke-linejoin="round">D</text><text transform="matrix(0.7925,0,0,1,1615.36,2069.90)" font-size="64.53" font-weight="700" fill="#7cc04a" stroke="#7cc04a" stroke-width="3.00" stroke-linejoin="round">F</text><text transform="matrix(0.8191,0,0,1,1678.14,2069.90)" font-size="64.53" font-weight="700" fill="#000" stroke="#000" stroke-width="3.00" stroke-linejoin="round">F</text><text transform="matrix(0.8259,0,0,1,1720.02,2069.90)" font-size="64.53" font-weight="700" fill="#000" stroke="#000" stroke-width="3.00" stroke-linejoin="round">R</text><text transform="matrix(0.8857,0,0,1,1767.99,2069.90)" font-size="64.53" font-weight="700" fill="#000" stroke="#000" stroke-width="3.00" stroke-linejoin="round">A</text><text transform="matrix(0.9670,0,0,1,1817.71,2069.90)" font-size="64.53" font-weight="700" fill="#000" stroke="#000" stroke-width="3.00" stroke-linejoin="round">M</text><text transform="matrix(0.7178,0,0,1,1880.33,2069.90)" font-size="64.53" font-weight="700" fill="#000" stroke="#000" stroke-width="3.00" stroke-linejoin="round">E</text></g>
<g filter="url(#vsh)">
<path transform="translate(76,2058.0) rotate(-90)" d="M0,0 H45 V15 H17.4 V46 H40.6 V60.4 H17.4 V107.8 H0 Z" fill="#7cc04a" fill-rule="evenodd"/>
<path transform="translate(76,1953.7) rotate(-90)" d="M8,0 H44 Q53,0 53,9 V49.5 Q53,58.5 44,58.5 H42.3 L55.9,107.8 H38.9 L20.7,58.5 H17 V107.8 H0 V8 Q0,0 8,0 Z M17,14.6 H36.9 V47.7 H17 Z" fill="#7cc04a" fill-rule="evenodd"/>
<path transform="translate(76,1841.2) rotate(-90)" d="M19.2,0 H38.2 L58.5,107.8 H41.6 L38.1,88.3 H20.4 L16.9,107.8 H0 Z M29.2,27 L37.2,73 H21.2 Z" fill="#7cc04a" fill-rule="evenodd"/>
<path transform="translate(76,1722.8) rotate(-90)" d="M0,0 H18.2 L33,56.8 L47.2,0 H65.4 V107.8 H49.2 V50.2 L33,97.8 L15.8,50.2 V107.8 H0 Z" fill="#7cc04a" fill-rule="evenodd"/>
<path transform="translate(76,1593.7) rotate(-90)" d="M0,0 H44.5 V15 H17 V45.5 H40.5 V60 H17 V93 H44.5 V107.8 H0 Z" fill="#7cc04a" fill-rule="evenodd"/>
<path transform="translate(76,1407.0) rotate(-90)" d="M9,0 H43.5 Q52.5,0 52.5,9 V35.6 H36.4 V15.4 H17 V34.8 L52.5,70.4 V99 Q52.5,107.8 43.5,107.8 H9 Q0,107.8 0,99 V72.9 H17 V94.1 H35.6 V84.5 L0,41.4 V9 Q0,0 9,0 Z" fill="#000" fill-rule="evenodd"/>
<path transform="translate(76,1295.7) rotate(-90)" d="M0,0 H52 V15 H34.3 V107.8 H18.2 V15 H0 Z" fill="#000" fill-rule="evenodd"/>
<path transform="translate(76,1184.8) rotate(-90)" d="M8,0 H44 Q53,0 53,9 V49.5 Q53,58.5 44,58.5 H42.3 L55.9,107.8 H38.9 L20.7,58.5 H17 V107.8 H0 V8 Q0,0 8,0 Z M17,14.6 H36.9 V47.7 H17 Z" fill="#000" fill-rule="evenodd"/>
<path transform="translate(76,1068.8) rotate(-90)" d="M0,0 H16.6 V88 Q16.6,90.5 19,90.5 H35 Q37.3,90.5 37.3,88 V0 H54 V99 Q54,107.8 45,107.8 H9 Q0,107.8 0,99 Z" fill="#000" fill-rule="evenodd"/>
<path transform="translate(76,950.9) rotate(-90)" d="M9,0 H45 Q54,0 54,9 V35.6 H37.3 V14.5 H17 V92.4 H37.3 V71.4 H54 V99 Q54,107.8 45,107.8 H9 Q0,107.8 0,99 V9 Q0,0 9,0 Z" fill="#000" fill-rule="evenodd"/>
<path transform="translate(76,838.5) rotate(-90)" d="M0,0 H52 V15 H34.3 V107.8 H18.2 V15 H0 Z" fill="#000" fill-rule="evenodd"/>
<path transform="translate(76,727.4) rotate(-90)" d="M0,0 H16.6 V88 Q16.6,90.5 19,90.5 H35 Q37.3,90.5 37.3,88 V0 H54 V99 Q54,107.8 45,107.8 H9 Q0,107.8 0,99 Z" fill="#000" fill-rule="evenodd"/>
<path transform="translate(76,610.0) rotate(-90)" d="M8,0 H44 Q53,0 53,9 V49.5 Q53,58.5 44,58.5 H42.3 L55.9,107.8 H38.9 L20.7,58.5 H17 V107.8 H0 V8 Q0,0 8,0 Z M17,14.6 H36.9 V47.7 H17 Z" fill="#000" fill-rule="evenodd"/>
<path transform="translate(76,493.3) rotate(-90)" d="M0,0 H44.5 V15 H17 V45.5 H40.5 V60 H17 V93 H44.5 V107.8 H0 Z" fill="#000" fill-rule="evenodd"/>
</g>
</svg>
</body></html>
